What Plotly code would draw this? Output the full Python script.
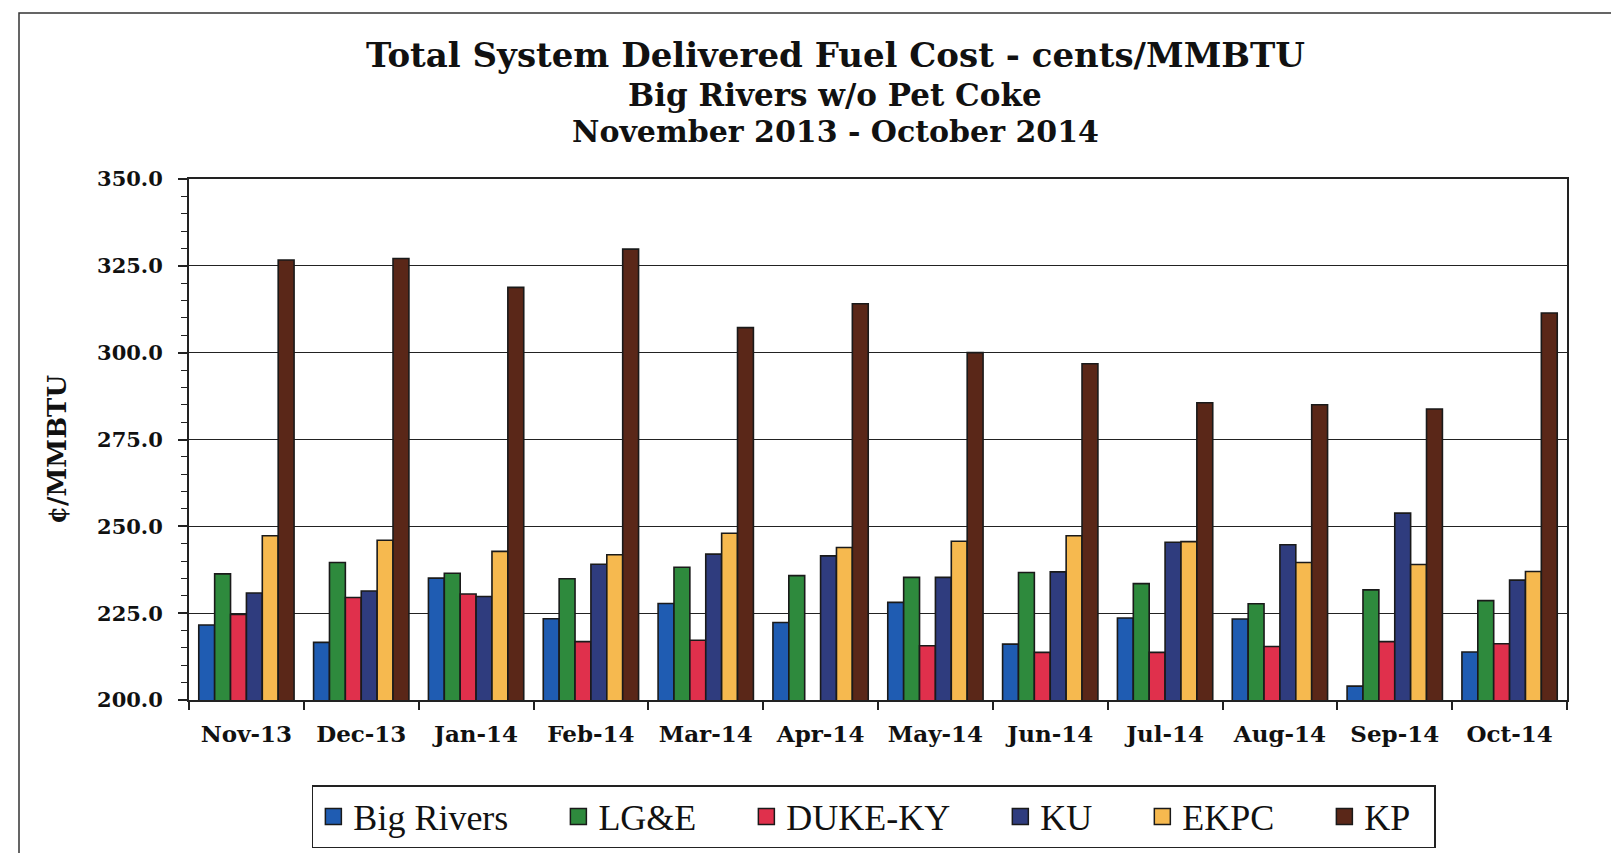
import plotly.graph_objects as go

months = ["Nov-13", "Dec-13", "Jan-14", "Feb-14", "Mar-14", "Apr-14",
          "May-14", "Jun-14", "Jul-14", "Aug-14", "Sep-14", "Oct-14"]

big_rivers = [221.6, 216.6, 235.1, 223.4, 227.8, 222.3, 228.1, 216.1, 223.6, 223.3, 204.0, 213.8]
lge        = [236.3, 239.6, 236.5, 234.9, 238.2, 235.8, 235.3, 236.7, 233.5, 227.7, 231.7, 228.6]
duke_ky    = [224.6, 229.5, 230.5, 216.8, 217.2, None, 215.6, 213.7, 213.7, 215.4, 216.8, 216.2]
ku         = [230.8, 231.4, 229.8, 239.1, 242.0, 241.5, 235.3, 236.9, 245.4, 244.7, 253.8, 234.5]
ekpc       = [247.3, 246.0, 242.8, 241.8, 248.0, 243.9, 245.7, 247.3, 245.6, 239.6, 239.0, 237.0]
kp         = [326.7, 327.1, 318.8, 329.8, 307.2, 314.1, 300.0, 296.8, 285.6, 285.0, 283.8, 311.4]

series_names = ["Big Rivers", "LG&E", "DUKE-KY", "KU", "EKPC", "KP"]
series_values = [big_rivers, lge, duke_ky, ku, ekpc, kp]
colors = ["#1f5cb2", "#2e8a3d", "#e0304c", "#2f3c7e", "#f6b94f", "#5a2718"]

y_range = [200, 350]
y_dtick = 25

title_lines = ["Total System Delivered Fuel Cost - cents/MMBTU",
               "Big Rivers w/o Pet Coke",
               "November 2013 - October 2014"]
y_title = "¢/MMBTU"

SERIF = "DejaVu Serif"
LEGEND_FONT = "Liberation Serif"
EDGE = "#1a1a1a"

W, H = 1619, 853
L, R, T, B = 181, 60, 171, 161
PW, PH = W - L - R, H - T - B


def px_x(x):
    return (x - L) / PW


def px_y(y):
    return (H - B - y) / PH


fig = go.Figure()

for name, vals, col in zip(series_names, series_values, colors):
    fig.add_trace(go.Bar(
        x=months, y=vals, name=name, showlegend=False,
        marker=dict(color=col, line=dict(color=EDGE, width=1.6)),
    ))

# legend entries (larger swatches than the default bar swatch)
NB = "\u00a0"
for i, (name, col) in enumerate(zip(series_names, colors)):
    pad = NB * (5 if i < len(series_names) - 1 else 2)
    fig.add_trace(go.Scatter(
        x=[None], y=[None], mode="markers", name=name + pad,
        marker=dict(symbol="square", size=16, color=col,
                    line=dict(color=EDGE, width=1.5)),
    ))

annotations = []
title_specs = [(title_lines[0], 47, 34), (title_lines[1], 87, 31), (title_lines[2], 124, 30)]
for text, ypix, size in title_specs:
    annotations.append(dict(
        text="<b>%s</b>" % text, x=px_x(827), y=px_y(ypix),
        xref="paper", yref="paper", xanchor="center", yanchor="middle",
        showarrow=False, font=dict(family=SERIF, size=size, color="#111111"),
    ))
annotations.append(dict(
    text="<b>%s</b>" % y_title, x=px_x(49), y=px_y(442),
    xref="paper", yref="paper", xanchor="center", yanchor="middle",
    textangle=-90, showarrow=False,
    font=dict(family=SERIF, size=26, color="#111111"),
))

fig.update_layout(
    width=W, height=H,
    margin=dict(l=L, r=R, t=T, b=B, autoexpand=False),
    paper_bgcolor="white", plot_bgcolor="white",
    barmode="group", bargap=0.17, bargroupgap=0.0,
    annotations=annotations,
    showlegend=True,
    legend=dict(
        orientation="h", x=0.497, xanchor="center",
        y=px_y(777), yanchor="top",
        font=dict(family=LEGEND_FONT, size=36, color="#111111"),
        bordercolor="#222222", borderwidth=1.5,
        bgcolor="white", itemsizing="trace",
        traceorder="normal",
    ),
    shapes=[dict(type="rect", xref="paper", yref="paper",
                 x0=px_x(11), x1=px_x(1616), y0=px_y(850), y1=px_y(5),
                 line=dict(color="#333333", width=1.5), layer="below")],
)

fig.update_yaxes(
    range=y_range, dtick=y_dtick, tickformat=".1f",
    showgrid=True, gridcolor="#222222", gridwidth=1.2,
    showline=True, linecolor="#222222", linewidth=2, mirror=True,
    ticks="outside", ticklen=9, tickwidth=1.5, tickcolor="#222222",
    minor=dict(dtick=5, ticks="outside", ticklen=6, tickwidth=1.2,
               tickcolor="#222222", showgrid=False),
    tickfont=dict(family=SERIF, size=21, color="#111111"),
    tickprefix="<b>", ticksuffix="</b>",
    ticklabelstandoff=11,
    zeroline=False,
)

fig.update_xaxes(
    type="category", tickson="boundaries",
    showline=True, linecolor="#222222", linewidth=2, mirror=True,
    ticks="outside", ticklen=8, tickwidth=1.5, tickcolor="#222222",
    tickfont=dict(family=SERIF, size=23, color="#111111"),
    tickprefix="<b>", ticksuffix="</b>",
    ticklabelstandoff=12,
    showgrid=False,
)

fig.write_html("out.html")
